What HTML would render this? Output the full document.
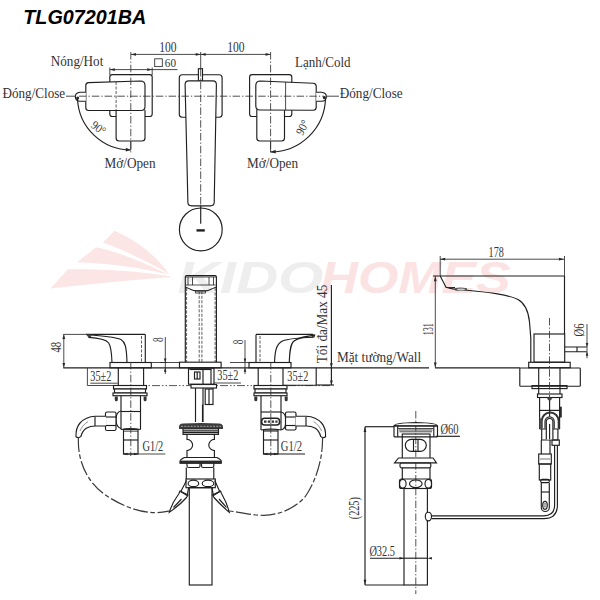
<!DOCTYPE html>
<html><head><meta charset="utf-8">
<style>
html,body{margin:0;padding:0;background:#fff;width:600px;height:600px;overflow:hidden}
svg{display:block}
.l{stroke:#1f1f1f;stroke-width:1.15;fill:none}
.f{stroke:#1f1f1f;stroke-width:1.15;fill:#fff}
.dm{stroke:#2a2a2a;stroke-width:0.85;fill:none}
.c{stroke:#333;stroke-width:0.85;fill:none;stroke-dasharray:7.5 2 1.3 2}
.d{stroke:#333;stroke-width:0.8;fill:none;stroke-dasharray:3 1.5}
.h{stroke:#3a3a3a;stroke-width:1.2;fill:none;stroke-dasharray:15 2.5 4.5 2.5}
.u{stroke:#444;stroke-width:0.9;fill:none;stroke-dasharray:8 2 1.5 2 1.5 2}
.t{font-family:"Liberation Serif",serif;fill:#333}
.title{font-family:"Liberation Sans",sans-serif;font-weight:bold;font-style:italic;fill:#000}
</style></head>
<body>
<svg width="600" height="600" viewBox="0 0 600 600">
<defs>
<marker id="ar" viewBox="0 0 10 10" refX="10" refY="5" markerWidth="6" markerHeight="6" orient="auto-start-reverse"><path d="M0,2 L10,5 L0,8 z" fill="#262626"/></marker>
</defs>

<!-- WATERMARK -->
<g id="wm">
<path d="M50.5,288.4 L68,269.3 C100,268.8 140,271 170,276.3 L170,277.3 C130,280 90,284 50.5,288.4 z" fill="#fbe5e5"/>
<path d="M77.3,262.3 L96,247.2 C115,251 142,261 168,274.6 C140,267.5 110,263.5 77.3,262.3 z" fill="#fbe5e5"/>
<path d="M114.7,230.8 C135,240 155,254 169,274 C150,263 125,250 103,242.5 z" fill="#fbe5e5"/>
<text x="177.5" y="293" font-family="Liberation Sans" font-weight="bold" font-style="italic" font-size="43.5" fill="#eeeeee" textLength="146" lengthAdjust="spacingAndGlyphs">KIDO</text>
<text x="320.5" y="293" font-family="Liberation Sans" font-weight="bold" font-style="italic" font-size="43.5" fill="#fbe3e3" textLength="190" lengthAdjust="spacingAndGlyphs">HOMES</text>
</g>

<!-- TITLE -->
<text class="title" x="23.3" y="23.8" font-size="20.6" textLength="123" lengthAdjust="spacingAndGlyphs">TLG07201BA</text>

<!-- ============ TOP VIEW ============ -->
<g id="top">
<!-- dimension 100 / 100 -->
<line class="dm" x1="131" y1="54.4" x2="270.6" y2="54.4"/>
<path d="M131,54.4 l5,-1.4 v2.8 z M200.7,54.4 l-5,-1.4 v2.8 z M200.7,54.4 l5,-1.4 v2.8 z M270.6,54.4 l-5,-1.4 v2.8 z" fill="#262626"/>
<line class="dm" x1="200.7" y1="52" x2="200.7" y2="69"/>
<text class="t" x="159.3" y="51.8" font-size="13.8" textLength="17.3" lengthAdjust="spacingAndGlyphs">100</text>
<text class="t" x="227.3" y="51.8" font-size="13.8" textLength="17.3" lengthAdjust="spacingAndGlyphs">100</text>
<!-- square 60 -->
<rect class="dm" x="154.7" y="58.8" width="7.6" height="7.8"/>
<text class="t" x="164.8" y="67" font-size="13" textLength="11.2" lengthAdjust="spacingAndGlyphs">60</text>
<line class="dm" x1="109.8" y1="69.6" x2="177.5" y2="69.6"/>
<path d="M109.8,69.6 l5,-1.4 v2.8 z M152.2,69.6 l-5,-1.4 v2.8 z" fill="#262626"/>
<line class="dm" x1="109.8" y1="67.5" x2="109.8" y2="75"/>
<line class="dm" x1="152.2" y1="67.5" x2="152.2" y2="75"/>

<!-- horizontal center line -->
<line class="dm" x1="66" y1="96.2" x2="76" y2="96.2"/>
<line class="dm" x1="326" y1="96.2" x2="339" y2="96.2"/>

<!-- LEFT handle -->
<rect class="l" x="109.8" y="74.6" width="42.4" height="41.9" rx="2.5"/>
<path class="f" d="M116.1,110 L116.1,138 Q116.1,141 119.1,141 L142,141 Q145,141 145,138 L145,110"/>
<line class="dm" x1="130.8" y1="141" x2="130.8" y2="150"/>
<path class="f" d="M88.5,82.6 L140.5,81 Q145,81 145,85.5 L145,106.5 Q145,110.5 141,110.5 L88.5,110.5 Q85.8,110.5 85.8,107.5 L85.8,85.6 Q85.8,82.7 88.5,82.6 z"/>
<line class="d" x1="116.1" y1="82" x2="116.1" y2="110"/>
<path class="f" d="M85.8,92.2 L80,92.2 Q75.3,92.6 75.3,96.7 Q75.6,101 80,101.2 L85.8,101.2"/>
<circle cx="77.6" cy="98" r="1.5" fill="#222"/>
<path class="l" d="M77.5,99 A53.5,53.5 0 0 0 130.8,150"/>
<path d="M130.8,150 l-5,-2.2 v3.8 z" fill="#262626"/>
<text class="t" x="0" y="0" font-size="12" transform="translate(90.2 126.8) rotate(36)" textLength="15" lengthAdjust="spacingAndGlyphs">90°</text>

<!-- CENTER spout top -->
<rect class="l" x="179.3" y="74.7" width="42.8" height="42.5" rx="3"/>
<rect class="f" x="198.4" y="68.7" width="4.1" height="12.1"/>
<path class="f" d="M188.8,80.8 L212.8,80.8 Q216.4,80.8 216.4,84.6 L214.2,202.5 Q214,205.8 210.5,205.8 L191.5,205.8 Q188,205.8 187.9,202.5 L185.1,84.6 Q185.1,80.8 188.8,80.8 z"/>
<line class="l" x1="200.7" y1="205.8" x2="200.7" y2="223.8"/>
<circle class="l" cx="200.8" cy="229.4" r="21.4"/>
<line x1="196.5" y1="230.4" x2="204.8" y2="230.4" stroke="#222" stroke-width="2.4"/>

<!-- RIGHT handle -->
<rect class="l" x="249.6" y="74.6" width="42.2" height="41.9" rx="2.5"/>
<path class="f" d="M256.8,109.5 L256.8,138 Q256.8,141 259.8,141 L281.5,141 Q284.5,141 284.5,138 L284.5,109.5"/>
<line class="dm" x1="270.6" y1="141" x2="270.6" y2="152"/>
<path class="f" d="M313.2,83.2 L260.5,81 Q255.8,81 255.8,85.5 L255.8,106 Q255.8,110 260,110 L313.2,110.3 Q316.2,110.3 316.2,107.3 L316.2,86.2 Q316.2,83.3 313.2,83.2 z"/>
<line class="dm" x1="285.6" y1="82" x2="285.6" y2="110"/>
<path class="f" d="M316.2,92.2 L321.5,92.2 Q326.4,92.6 326.4,96.7 Q326.1,101 321.5,101.2 L316.2,101.2"/>
<circle cx="324.3" cy="97.5" r="1.5" fill="#222"/>
<path class="l" d="M325.5,98.5 A55,55 0 0 1 270.6,152"/>
<path d="M270.6,152 l5,-2.2 v3.8 z" fill="#262626"/>
<text class="t" x="0" y="0" font-size="12" transform="translate(302.5 136) rotate(-62)" textLength="15" lengthAdjust="spacingAndGlyphs">90°</text>


<!-- center lines -->
<line class="c" x1="79" y1="96.2" x2="324" y2="96.2"/>
<line class="c" x1="130.8" y1="52" x2="130.8" y2="153"/>
<line class="c" x1="200.7" y1="69" x2="200.7" y2="206"/>
<line class="c" x1="270.6" y1="52" x2="270.6" y2="153"/>
<!-- labels -->
<text class="t" x="50.80" y="65.7" font-size="14" textLength="52.50" lengthAdjust="spacingAndGlyphs">Nóng/Hot</text>
<text class="t" x="295.00" y="66.6" font-size="14" textLength="55.60" lengthAdjust="spacingAndGlyphs">Lạnh/Cold</text>
<text class="t" x="2.60" y="97.9" font-size="14" textLength="62.50" lengthAdjust="spacingAndGlyphs">Đóng/Close</text>
<text class="t" x="339.70" y="97.6" font-size="14" textLength="63.00" lengthAdjust="spacingAndGlyphs">Đóng/Close</text>
<text class="t" x="104.60" y="167.8" font-size="14" textLength="51.00" lengthAdjust="spacingAndGlyphs">Mở/Open</text>
<text class="t" x="247.10" y="167.8" font-size="14" textLength="51.00" lengthAdjust="spacingAndGlyphs">Mở/Open</text>
</g>

<!-- ============ FRONT VIEW ============ -->
<g id="front">
<!-- deck line & underside -->
<line class="l" x1="63.3" y1="367.9" x2="429" y2="367.9"/>
<line class="u" x1="118" y1="385.6" x2="332" y2="385.6"/>

<!-- LEFT handle -->
<line class="dm" x1="63.3" y1="334.4" x2="87" y2="334.4"/>
<line class="l" x1="86" y1="334.4" x2="145.3" y2="334.4"/>
<line class="dm" x1="63.8" y1="334.4" x2="63.8" y2="367.8"/>
<path d="M63.8,334.6 l-1.4,4.5 h2.8 z M63.8,367.6 l-1.4,-4.5 h2.8 z" fill="#262626"/>
<text class="t" x="0" y="0" font-size="14" text-anchor="middle" transform="translate(60.9 347.2) rotate(-90)" textLength="10.6" lengthAdjust="spacingAndGlyphs">48</text>
<line class="l" x1="145.3" y1="334.4" x2="145.3" y2="362.5"/>
<line class="d" x1="141.5" y1="336" x2="141.5" y2="362.5"/>
<path d="M86,334.4 L91.5,334.6 L91,337.6 L88.5,337.6 z" fill="#444"/>
<path class="l" d="M88.5,337.4 C100,338 106,339.5 108.7,343 C111,346.5 111.6,352 112,362.5"/>
<path class="l" d="M91,335 C105,336 115,337 121,339.5 C125,342 126.5,346 127,362.5"/>
<rect class="l" x="110" y="362.5" width="41.3" height="5.3"/>
<line class="dm" x1="151.3" y1="362.5" x2="167" y2="362.5"/>
<!-- 35±2 left -->
<polyline class="dm" points="118.3,385.5 87.4,385.5 87.4,367.8"/>
<line class="dm" x1="90.3" y1="383.2" x2="117.7" y2="383.2"/>
<text class="t" x="90.3" y="380.7" font-size="14.5" textLength="21" lengthAdjust="spacingAndGlyphs">35±2</text>
<line class="l" x1="118.3" y1="367.8" x2="118.3" y2="385.5"/>
<line class="l" x1="143.6" y1="367.8" x2="143.6" y2="385.5"/>
<!-- nut -->
<rect class="f" x="113.5" y="385.5" width="33" height="3.5"/>
<rect class="f" x="114.5" y="389" width="31" height="4"/>
<rect class="f" x="113" y="393" width="34" height="2.7"/>
<path d="M114.8,396.5 h3 v3.3 a1.5,1.5 0 0 1 -3,0 z M143.6,396.5 h3 v3.3 a1.5,1.5 0 0 1 -3,0 z" fill="#333"/>
<line class="l" x1="121" y1="395.7" x2="121" y2="429.5"/>
<line class="l" x1="140.5" y1="395.7" x2="140.5" y2="429.5"/>
<line class="l" x1="121" y1="411.5" x2="140.5" y2="411.5"/>
<path class="l" d="M121,429.5 Q130,427.5 140.5,429.5"/>
<!-- side connection left -->
<path class="l" d="M121,411 Q116,412 116,419.5 Q116,427 121,428.5"/>
<rect class="f" x="105.5" y="412" width="10.5" height="18.5" rx="1.5"/>
<line class="l" x1="105.5" y1="417" x2="116" y2="417"/>
<line class="l" x1="105.5" y1="425.5" x2="116" y2="425.5"/>
<path class="f" d="M106,416.2 L95.3,416.2 C89,416.5 84,418.5 80,423 C76.5,427 75.8,432 76,436.7 Q78.5,438.8 81,436.4 C81.7,433 83.2,430.5 86.2,428.3 C89,426.7 92,426 95.3,426 L106,426"/>
<path d="M88,421.5 C84,424 81.5,427.5 80,431" stroke="#777" stroke-width="0.8" fill="none"/>
<line class="l" x1="95" y1="416.8" x2="95" y2="426"/>
<!-- lower connector left -->
<rect class="f" x="123.5" y="429.5" width="14.5" height="24.5"/>
<line class="l" x1="123.5" y1="440" x2="138" y2="440"/>
<line class="dm" x1="123.5" y1="431.2" x2="138" y2="431.2"/>
<line class="dm" x1="123.5" y1="454" x2="165.4" y2="454"/>
<path d="M123.5,454 l4,-1.3 v2.6 z M138,454 l-4,-1.3 v2.6 z" fill="#262626"/>
<text class="t" x="142.50" y="451" font-size="14.5" textLength="20.70" lengthAdjust="spacingAndGlyphs">G1/2</text>

<!-- 8 dims -->
<line class="dm" x1="165.3" y1="337" x2="165.3" y2="374"/>
<path d="M165.2,362.5 l-1.3,-4 h2.6 z M165.2,367.8 l-1.3,4 h2.6 z" fill="#262626"/>
<text class="t" x="0" y="0" font-size="14.5" text-anchor="middle" transform="translate(162.8 339.8) rotate(-90)" textLength="4.6" lengthAdjust="spacingAndGlyphs">8</text>
<line class="dm" x1="245" y1="340" x2="245" y2="374"/>
<path d="M245,362.5 l-1.3,-4 h2.6 z M245,367.8 l-1.3,4 h2.6 z" fill="#262626"/>
<text class="t" x="0" y="0" font-size="14.5" text-anchor="middle" transform="translate(242.8 342) rotate(-90)" textLength="4.6" lengthAdjust="spacingAndGlyphs">8</text>
<line class="dm" x1="160" y1="362.5" x2="179.5" y2="362.5"/>
<line class="dm" x1="230" y1="362.5" x2="249" y2="362.5"/>

<!-- CENTER spout front -->
<path class="l" d="M185.3,362.2 L185.3,277 Q185.3,275.6 186.7,275.6 L215,275.6 Q216.4,275.6 216.4,277 L216.4,362.2" stroke-width="1.3"/>
<line class="dm" x1="185.3" y1="277" x2="216.4" y2="277"/>
<line class="dm" x1="188" y1="277" x2="188" y2="285"/>
<line class="dm" x1="192.5" y1="277" x2="192.5" y2="285"/>
<line class="dm" x1="209" y1="277" x2="209" y2="285"/>
<line class="dm" x1="213.5" y1="277" x2="213.5" y2="285"/>
<path class="l" d="M185.3,287 Q189,288.5 191,289.5 Q193.5,290.8 196,290.8 L205.5,290.8 Q208,290.8 210.5,289.5 Q212.5,288.5 216.4,287"/>
<line class="dm" x1="186" y1="285" x2="215.7" y2="285"/>
<rect class="dm" x="195.6" y="290.8" width="9.8" height="2.2"/>
<line class="d" x1="186.6" y1="288" x2="186.6" y2="362"/>
<line class="d" x1="215.1" y1="288" x2="215.1" y2="362"/>
<line class="d" x1="199.2" y1="291.3" x2="199.2" y2="362"/>
<line class="d" x1="201.9" y1="291.3" x2="201.9" y2="362"/>
<rect class="l" x="179.5" y="362.2" width="41.6" height="5.6"/>
<!-- under deck center -->
<rect class="l" x="188.5" y="368.2" width="25.5" height="16"/>
<line class="l" x1="189.5" y1="369.5" x2="211.5" y2="369.5"/>
<rect class="l" x="194.5" y="372" width="5.5" height="7"/>
<line class="l" x1="197.2" y1="372" x2="197.2" y2="379"/>
<line class="l" x1="203" y1="369.5" x2="203" y2="422" stroke-width="1.3"/>
<line class="l" x1="211" y1="369.5" x2="211" y2="384"/>
<text class="t" x="217.3" y="379.9" font-size="14.5" textLength="21" lengthAdjust="spacingAndGlyphs">35±2</text>
<line class="dm" x1="213.7" y1="383" x2="241" y2="383"/>
<rect class="f" x="191" y="384.5" width="25.5" height="3.5" stroke-width="1.2"/>
<line class="l" x1="195.5" y1="388" x2="195.5" y2="422"/>
<rect class="l" x="205.2" y="389" width="7.8" height="15.5"/>
<line class="l" x1="209" y1="389" x2="209" y2="404.5"/>
<line class="l" x1="213" y1="388" x2="213" y2="389"/>
<!-- drain (front) -->
<line class="l" x1="202.5" y1="404.5" x2="202.5" y2="422"/>
<path d="M179,427 Q179,423.6 183,423.4 Q201,422.4 219,423.4 Q223,423.6 223,427 L223,428.9 L179,428.9 z" fill="#3c3c3c"/>
<line x1="181" y1="426.3" x2="221" y2="426.3" stroke="#aaa" stroke-width="0.9" stroke-dasharray="2 1.2"/>
<rect class="f" x="183" y="428.8" width="35.5" height="5.6"/>
<line class="l" x1="183" y1="430.8" x2="218.5" y2="430.8"/>
<line class="l" x1="183" y1="432.6" x2="218.5" y2="432.6"/>
<path class="l" d="M187,434.4 L187,439.4 A5.6,5.6 0 0 1 187,450.6 L187,457.5 M214.4,434.4 L214.4,439.4 A5.6,5.6 0 0 0 214.4,450.6 L214.4,457.5"/>
<path class="f" d="M184.5,457.5 L216.7,457.5 Q221.3,459.5 221.3,461.5 L221.3,463.2 L180,463.2 L180,461.5 Q180,459.5 184.5,457.5 z" stroke-width="1.1"/>
<rect x="180" y="460.6" width="41.3" height="3" fill="#2a2a2a"/>
<path class="l" d="M187,463.2 L187,466 Q187,467.5 189,467.5 L198.5,467.5 Q200,467.5 200,466 L200,463.2 M201.5,463.2 L201.5,466 Q201.5,467.5 203,467.5 L212,467.5 Q213.8,467.5 213.8,466 L213.8,463.2"/>
<line class="l" x1="186.3" y1="467.5" x2="186.3" y2="479"/>
<line class="l" x1="213.8" y1="467.5" x2="213.8" y2="479"/>
<rect class="l" x="186" y="479" width="29.3" height="8.7"/>
<ellipse class="l" cx="193.4" cy="483.4" rx="5.3" ry="3.2"/>
<ellipse class="l" cx="208" cy="483.4" rx="5.8" ry="3.2"/>
<rect class="l" x="189.3" y="487.7" width="22.7" height="97.3"/>
<!-- side hose nipples -->
<path class="l" d="M186.5,480.5 L180.7,491.7 M188.6,487.7 L187.3,495"/>
<path class="f" d="M180,491 L188,495 L186.5,497.5 Q180,505 169.3,512.3 Q172,503 179,493.5 z"/>
<line class="l" x1="180.5" y1="491.5" x2="187.5" y2="495.8"/>
<path class="l" d="M181.5,499 Q177,504 173.5,507.5"/>
<path class="l" d="M214.8,480.5 L219.8,491.7 M212,487.7 L213.3,495"/>
<path class="f" d="M220.5,491 L212.5,495 L214,497.5 Q220.5,505 229.3,512.3 Q227,503 221.5,493.5 z"/>
<line class="l" x1="220" y1="491.5" x2="213" y2="495.8"/>
<path class="l" d="M219,499 Q223.5,504 226.5,507.5"/>

<!-- RIGHT handle -->
<line class="l" x1="256" y1="334.4" x2="256" y2="362.5"/>
<line class="l" x1="256" y1="334.4" x2="313" y2="334.4"/>
<line class="d" x1="260" y1="336" x2="260" y2="362.5"/>
<path d="M313,334.4 L315.5,334.6 L314.5,337.4 L311,337.6 z" fill="#444"/>
<path class="l" d="M313.5,337.3 C300,337.8 288,338.8 282.5,341 C276.5,344 275,350 274.5,362.5"/>
<path class="l" d="M315,335 C305,336.5 298,337.5 294,341 C290.5,344 289.7,350 289.3,362.5"/>
<rect class="l" x="249" y="362.5" width="42" height="5.3"/>
<line class="l" x1="258.2" y1="367.8" x2="258.2" y2="385.5"/>
<line class="l" x1="283" y1="367.8" x2="283" y2="385.5"/>
<polyline class="l" points="283,385.2 316.2,385.2 316.2,367.8"/>
<text class="t" x="287.3" y="380.7" font-size="14.5" textLength="21" lengthAdjust="spacingAndGlyphs">35±2</text>
<rect class="f" x="254" y="385.5" width="33" height="3.5"/>
<rect class="f" x="255" y="389" width="31" height="4"/>
<rect class="f" x="254" y="393" width="33" height="2.7"/>
<path d="M254.3,396.5 h3 v3.3 a1.5,1.5 0 0 1 -3,0 z M284.7,396.5 h3 v3.3 a1.5,1.5 0 0 1 -3,0 z" fill="#333"/>
<line class="l" x1="261" y1="395.7" x2="261" y2="430"/>
<line class="l" x1="281" y1="395.7" x2="281" y2="430"/>
<line class="l" x1="261" y1="412" x2="281" y2="412"/>
<path class="l" d="M261,430 Q271,428 281,430"/>
<rect x="261.6" y="418.2" width="18" height="6.8" rx="3" fill="#fff" stroke="#222" stroke-width="1.6"/>
<path d="M264,421.6 h13.5" stroke="#333" stroke-width="2.2" stroke-dasharray="2.5 1.3"/>
<path class="l" d="M281,412 Q286,413 286,421 Q286,429 281,430"/>
<rect class="f" x="285.5" y="412" width="10.5" height="18" rx="1.5"/>
<line class="l" x1="285.5" y1="417" x2="296" y2="417"/>
<line class="l" x1="285.5" y1="425.5" x2="296" y2="425.5"/>
<path class="f" d="M295.6,416.2 L306.3,416.2 C312.6,416.5 317.6,418.5 321.6,423 C325.1,427 325.8,432 325.6,436.7 Q323.1,438.8 320.6,436.4 C319.9,433 318.4,430.5 315.4,428.3 C312.6,426.7 309.6,426 306.3,426 L295.6,426"/>
<path d="M313.6,421.5 C317.6,424 320.1,427.5 321.6,431" stroke="#777" stroke-width="0.8" fill="none"/>
<line class="l" x1="306" y1="416.8" x2="306" y2="426"/>
<rect class="f" x="263.5" y="430" width="14.5" height="24"/>
<line class="l" x1="263.5" y1="440" x2="278" y2="440"/>
<line class="dm" x1="263.5" y1="431.2" x2="278" y2="431.2"/>
<line class="l" x1="263.5" y1="454" x2="305" y2="454"/>
<path d="M263.5,454 l4,-1.3 v2.6 z M278,454 l-4,-1.3 v2.6 z" fill="#262626"/>
<text class="t" x="280.8" y="451" font-size="14.5" textLength="21.2" lengthAdjust="spacingAndGlyphs">G1/2</text>

<!-- Max 45 -->
<line class="l" x1="331.4" y1="285" x2="331.4" y2="385"/>
<line class="l" x1="316.2" y1="385" x2="334" y2="385"/>
<path d="M331.4,367.8 l-1.4,-4.5 h2.8 z M331.4,385 l-1.4,-4.5 h2.8 z" fill="#262626"/>
<text class="t" x="0" y="0" font-size="13.6" transform="translate(327.4 363.2) rotate(-90)" textLength="78.5" lengthAdjust="spacingAndGlyphs">Tối đa/Max 45</text>
<text class="t" x="336.90" y="362.3" font-size="14" textLength="84.30" lengthAdjust="spacingAndGlyphs">Mặt tường/Wall</text>

<!-- hoses -->
<path class="h" d="M78.5,437 C77,462 88,485 110,498 C125,507 140,512.5 155,512.7 C161,512.6 165,511.8 169.3,511"/>
<path class="h" d="M322.5,437 C323,455 318,478 305,497 C295,508 280,515 264,515.3 C252,515.5 240,512 229.5,511"/>

<!-- center lines -->
<line class="c" x1="130.8" y1="362" x2="130.8" y2="456"/>
<line class="c" x1="270.8" y1="362" x2="270.8" y2="456"/>
</g>

<!-- ============ SIDE VIEW ============ -->
<g id="side">
<line class="dm" x1="440.2" y1="259.2" x2="564" y2="259.2"/>
<path d="M440.2,259.2 l5,-1.4 v2.8 z M564,259.2 l-5,-1.4 v2.8 z" fill="#262626"/>
<text class="t" x="488.6" y="256.5" font-size="14.5" textLength="15.2" lengthAdjust="spacingAndGlyphs">178</text>
<line class="dm" x1="440.2" y1="256" x2="440.2" y2="276"/>
<line class="dm" x1="564.5" y1="256" x2="564.5" y2="276"/>
<line class="l" x1="564.5" y1="276" x2="564.5" y2="334"/>
<line class="l" x1="433" y1="276" x2="564" y2="276"/>
<line class="dm" x1="435.3" y1="276" x2="435.3" y2="367.7"/>
<path d="M435.3,276.2 l-1.4,5 h2.8 z M435.3,367.5 l-1.4,-5 h2.8 z" fill="#262626"/>
<text class="t" x="0" y="0" font-size="14.5" text-anchor="middle" transform="translate(432.5 329.2) rotate(-90)" textLength="12" lengthAdjust="spacingAndGlyphs">131</text>
<!-- spout -->
<path class="l" d="M440.2,276 L446,287.3 L455,287.5"/>
<path class="l" d="M446,287.3 Q452,289.6 467,290.3 C490,292.5 508,294.5 518,299.5 C526,304 528.5,312 529.5,322 L530.8,338 L530.8,362.5"/>
<path d="M455,288 Q461,286.8 467,288.3 L467,290.6 Q461,291.6 455,290.4 z" fill="#555"/>
<ellipse cx="461" cy="289.4" rx="4" ry="1" fill="#ccc"/>
<!-- handle -->
<rect class="l" x="534" y="334" width="30.7" height="28.2"/>
<path class="l" d="M564.7,347 L586.8,347 M564.7,351.7 L586.8,351.7 M577,347 L577,351.7"/>
<line class="dm" x1="587" y1="324" x2="587" y2="358.3"/>
<path d="M587,347 l-1.3,-4 h2.6 z M587,351.7 l-1.3,4 h2.6 z" fill="#262626"/>
<text class="t" x="0" y="0" font-size="14" text-anchor="middle" transform="translate(583.7 330) rotate(-90)" textLength="13" lengthAdjust="spacingAndGlyphs">Ø6</text>
<rect class="l" x="528.7" y="362.3" width="41.5" height="5.4"/>
<line class="l" x1="435" y1="367.9" x2="520" y2="367.9"/>
<rect class="l" x="519.8" y="368" width="60.5" height="18.2" rx="0.8"/>
<rect class="l" x="532" y="385.6" width="35" height="3" fill="#8a8a8a"/>
<line class="l" x1="538.7" y1="367.7" x2="538.7" y2="394"/>
<line class="l" x1="560" y1="367.7" x2="560" y2="394"/>
<rect class="f" x="537.5" y="394" width="24.5" height="3.5"/>
<line class="c" x1="549.5" y1="318" x2="549.5" y2="397"/>
<line class="l" x1="549.6" y1="397.5" x2="549.6" y2="416.5" stroke-width="1"/>
<path d="M546.8,397.5 h5.6 l-1.3,2.8 h-3 z" fill="#444"/>
<line class="l" x1="539.6" y1="397.5" x2="539.6" y2="429"/>
<line class="l" x1="559.6" y1="397.5" x2="559.6" y2="429"/>
<line class="l" x1="539" y1="410.4" x2="561" y2="410.4"/>
<rect x="559.6" y="406.7" width="2.2" height="10.8" fill="#2a2a2a"/>
<path d="M541.7,428.5 L541.7,421 A8.5,8.5 0 0 1 558.7,421 L558.7,428.5" fill="none" stroke="#333" stroke-width="2"/>
<path class="l" d="M545,428.5 L545,421.5 A4.6,4.6 0 0 1 554.2,421.5 L554.2,428.5"/>
<rect x="539.6" y="418.3" width="2.1" height="10" fill="#555"/>
<path class="l" d="M539.6,429 L559.6,429 M541.7,429 L541.7,440 L557.9,440 L557.9,429"/>
<path class="f" d="M546.3,439.5 L546.3,421.8 A3.3,3.3 0 0 1 552.9,421.8 L552.9,439.5"/>
<line class="l" x1="549.6" y1="424" x2="549.6" y2="439.5" stroke-width="1"/>
<line class="l" x1="541.3" y1="440" x2="541.3" y2="454"/>
<line class="l" x1="550" y1="440" x2="550" y2="454"/>
<rect class="l" x="552" y="440" width="7.3" height="5.3"/>
<path class="l" d="M554.6,445.3 L554.6,505 Q554.6,515.8 543.8,515.8 L431.5,515.8 M557.4,445.3 L557.4,505 Q557.4,518.6 543.8,518.6 L431.5,518.6" stroke-width="1"/>
<rect class="l" x="538.7" y="454" width="12.6" height="10" fill="#9a9a9a" stroke-width="1.3"/>
<line x1="539.5" y1="459" x2="550.5" y2="459" stroke="#bbb" stroke-width="2"/>
<rect class="l" x="539.3" y="464" width="11.4" height="16"/>
<rect class="l" x="540.7" y="479.3" width="8.6" height="3.4" rx="1.5"/>
<line class="l" x1="541.3" y1="492" x2="549.3" y2="492"/>
<path class="l" d="M541.3,482.7 L541.3,507.5 A4,4 0 0 0 549.3,507.5 L549.3,482.7"/>
<ellipse class="l" cx="545" cy="505.3" rx="2.3" ry="4"/>
<ellipse cx="545" cy="505.3" rx="0.9" ry="2.2" fill="none" stroke="#555" stroke-width="0.7"/>
</g>

<!-- ============ DRAIN ============ -->
<g id="drain">
<line class="c" x1="415.8" y1="411" x2="415.8" y2="594"/>
<path class="f" d="M394,426 Q394,422.8 415.8,422.5 Q437.5,422.8 437.5,426 z"/>
<rect class="l" x="394" y="425.8" width="43.5" height="11" rx="0.5"/>
<line class="l" x1="397.7" y1="426" x2="397.7" y2="436.8"/>
<line class="l" x1="433.8" y1="426" x2="433.8" y2="436.8"/>
<path d="M398,428.5 h35.5 M399,430 h33.5 M399.5,431.8 h32.5" stroke="#333" stroke-width="0.9" fill="none"/>
<rect class="l" x="402.3" y="434" width="27.7" height="25.5"/>
<rect class="l" x="405.3" y="439.3" width="21" height="12" rx="6"/>
<line class="l" x1="413.5" y1="439.3" x2="413.5" y2="451.3"/>
<line class="l" x1="418" y1="439.3" x2="418" y2="451.3"/>
<path class="f" d="M398.5,458 L433,458 L436.5,462.8 L394.5,462.8 z" stroke-width="1.1"/>
<rect class="l" x="400" y="463" width="30.8" height="4.8" rx="1.5"/>
<line class="l" x1="402.3" y1="467.8" x2="402.3" y2="479"/>
<line class="l" x1="430" y1="467.8" x2="430" y2="479"/>
<rect class="l" x="399.5" y="479" width="32" height="9.5" rx="2"/>
<ellipse class="l" cx="402.8" cy="483.8" rx="3.3" ry="4.4"/>
<ellipse class="l" cx="415.8" cy="483.8" rx="6.3" ry="3.8"/>
<ellipse class="l" cx="428.3" cy="483.8" rx="3.3" ry="4.4"/>
<rect class="l" x="404" y="488.5" width="23.4" height="96.5"/>
<line class="l" x1="404" y1="558.2" x2="427.4" y2="558.2"/>
<ellipse class="f" cx="428.4" cy="516.5" rx="3.1" ry="4.3"/>
<!-- dims -->
<line class="l" x1="365" y1="426.7" x2="394" y2="426.7"/>
<line class="l" x1="365" y1="585" x2="404" y2="585"/>
<line class="l" x1="365" y1="426.7" x2="365" y2="585"/>
<path d="M365,426.9 l-1.4,5 h2.8 z M365,584.8 l-1.4,-5 h2.8 z" fill="#262626"/>
<text class="t" x="0" y="0" font-size="14.5" text-anchor="middle" transform="translate(359.3 508.2) rotate(-90)" textLength="22" lengthAdjust="spacingAndGlyphs">(225)</text>
<line class="l" x1="436" y1="436.3" x2="460" y2="436.3"/>
<text class="t" x="440.5" y="433.7" font-size="14.5" textLength="18" lengthAdjust="spacingAndGlyphs">Ø60</text>
<line class="l" x1="370" y1="558.2" x2="404" y2="558.2"/>
<path d="M404,558.2 l-4.5,-1.3 v2.6 z M427.4,558.2 l4.5,-1.3 v2.6 z" fill="#262626"/>
<text class="t" x="369.4" y="555.7" font-size="14.5" textLength="25.5" lengthAdjust="spacingAndGlyphs">Ø32.5</text>
</g>

</svg>
</body></html>
